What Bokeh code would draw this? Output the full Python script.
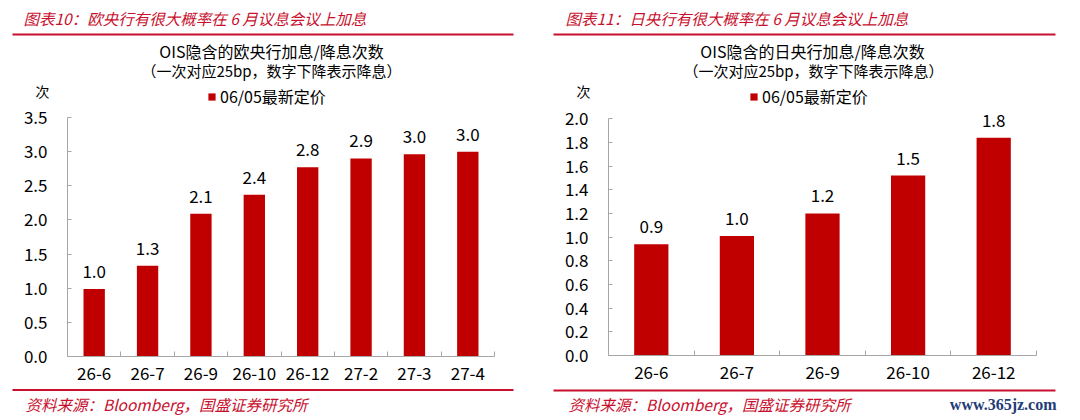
from bokeh.plotting import figure
from bokeh.layouts import row
from bokeh.models import (Range1d, LinearAxis, FixedTicker, NumeralTickFormatter,
                          Legend, LegendItem, ColumnDataSource)
from bokeh.core.properties import value
from bokeh.embed import file_html
from bokeh.resources import INLINE

# ---------------- data ----------------
ecb_months = ["26-6", "26-7", "26-9", "26-10", "26-12", "27-2", "27-3", "27-4"]
ecb_hikes = [0.99, 1.33, 2.09, 2.37, 2.77, 2.90, 2.96, 3.00]
ecb_yticks = [0.0, 0.5, 1.0, 1.5, 2.0, 2.5, 3.0, 3.5]

boj_months = ["26-6", "26-7", "26-9", "26-10", "26-12"]
boj_hikes = [0.94, 1.01, 1.20, 1.52, 1.84]
boj_yticks = [0.0, 0.2, 0.4, 0.6, 0.8, 1.0, 1.2, 1.4, 1.6, 1.8, 2.0]

series_label = "06/05最新定价"
unit_label = "次"
ecb_header = "图表10：欧央行有很大概率在 6 月议息会议上加息"
boj_header = "图表11：日央行有很大概率在 6 月议息会议上加息"
ecb_title = "OIS隐含的欧央行加息/降息次数"
boj_title = "OIS隐含的日央行加息/降息次数"
subtitle = "（一次对应25bp，数字下降表示降息）"
source_text = "资料来源：Bloomberg，国盛证券研究所"
watermark = "www.365jz.com"

# ---------------- style ----------------
FONT = "Noto Sans CJK SC"
BAR = "#C00000"
RED = "#C8102E"
GRAY = "#A6A6A6"
W, H, TOP = 540, 420, 0


def make_panel(px0, header, title, months, vals, yticks, ymax, g, wm=False):
    p = figure(width=W, height=H, output_backend="svg", toolbar_location=None,
               x_axis_type=None, y_axis_type=None,
               x_range=Range1d(px0, px0 + W), y_range=Range1d(TOP + H, TOP))
    p.min_border = 0
    p.min_border_left = p.min_border_right = 0
    p.min_border_top = p.min_border_bottom = 0
    p.outline_line_color = None
    p.background_fill_color = "white"
    p.border_fill_color = "white"

    n = len(months)
    ux = (g["ax_right"] - g["ax_left"]) / n
    uy = (g["ax_zero"] - g["ax_top"]) / ymax
    p.extra_x_ranges = {"bx": Range1d((px0 - g["ax_left"]) / ux,
                                      (px0 + W - g["ax_left"]) / ux)}
    p.extra_y_ranges = {"by": Range1d(-(TOP + H - g["ax_zero"]) / uy,
                                      (g["ax_zero"] - TOP) / uy)}

    xs = [i + 0.5 for i in range(n)]
    src = ColumnDataSource(dict(x=xs, top=vals, lab=[f"{v:.1f}" for v in vals]))
    bars = p.vbar(x="x", top="top", bottom=0, width=0.4, source=src,
                  x_range_name="bx", y_range_name="by",
                  fill_color=BAR, line_color=None)
    p.text(x="x", y="top", text="lab", source=src, x_range_name="bx", y_range_name="by",
           text_align="center", text_baseline="middle", y_offset=-17.5,
           text_font=value(FONT), text_font_size="17px", text_color="#000000")

    yaxis = LinearAxis(x_range_name="bx", y_range_name="by", fixed_location=0,
                       bounds=(0, ymax),
                       ticker=FixedTicker(ticks=yticks, minor_ticks=[]),
                       formatter=NumeralTickFormatter(format="0.0"))
    yaxis.axis_line_color = GRAY
    yaxis.major_tick_line_color = GRAY
    yaxis.major_tick_in = 4
    yaxis.major_tick_out = 0
    yaxis.minor_tick_in = 0
    yaxis.minor_tick_out = 0
    yaxis.major_label_standoff = 20
    yaxis.major_label_text_font = FONT
    yaxis.major_label_text_font_size = "17px"
    yaxis.major_label_text_color = "#000000"
    p.add_layout(yaxis, "left")

    xaxis = LinearAxis(x_range_name="bx", y_range_name="by", fixed_location=0,
                       bounds=(0, n),
                       ticker=FixedTicker(ticks=xs, minor_ticks=list(range(n + 1))),
                       major_label_overrides={x: m for x, m in zip(xs, months)})
    xaxis.axis_line_color = GRAY
    xaxis.major_tick_in = 0
    xaxis.major_tick_out = 0
    xaxis.minor_tick_in = 5
    xaxis.minor_tick_out = 0
    xaxis.minor_tick_line_color = GRAY
    xaxis.major_label_standoff = 10
    xaxis.major_label_text_font = FONT
    xaxis.major_label_text_font_size = "17px"
    xaxis.major_label_text_color = "#000000"
    p.add_layout(xaxis, "below")

    # header, rules, titles
    p.text(x=[g["header"][0]], y=[g["header"][1]], text=[header],
           text_font=value(FONT), text_font_size="15.5px", text_font_style="italic",
           text_color=RED, text_align="left", text_baseline="middle")
    p.segment(x0=[g["rule_x"][0], g["rule_x"][0]], x1=[g["rule_x"][1], g["rule_x"][1]],
              y0=[g["rule_top"], g["rule_bot"]], y1=[g["rule_top"], g["rule_bot"]],
              line_color=RED, line_width=2)
    p.text(x=[g["title"][0]], y=[g["title"][1]], text=[title],
           text_font=value(FONT), text_font_size="16px", text_color="#000000",
           text_align="center", text_baseline="middle")
    p.text(x=[g["sub"][0]], y=[g["sub"][1]], text=[subtitle],
           text_font=value(FONT), text_font_size="15px", text_color="#000000",
           text_align="center", text_baseline="middle")
    p.text(x=[g["unit"][0]], y=[g["unit"][1]], text=[unit_label],
           text_font=value(FONT), text_font_size="14px", text_color="#000000",
           text_align="center", text_baseline="middle")
    p.text(x=[g["source"][0]], y=[g["source"][1]], text=[source_text],
           text_font=value(FONT), text_font_size="15.5px", text_font_style="italic",
           text_color=RED, text_align="left", text_baseline="middle")
    if wm:
        p.text(x=[g["wm"][0]], y=[g["wm"][1]], text=[watermark],
               text_font=value("Liberation Serif"), text_font_size="16px",
               text_font_style="bold", text_color="#1F3C78",
               text_align="right", text_baseline="middle")

    legend = Legend(items=[LegendItem(label=series_label, renderers=[bars])],
                    location=(g["legend"][0] - px0, TOP + H - g["legend"][1]),
                    padding=0, margin=0, spacing=0, label_standoff=4,
                    glyph_width=9, glyph_height=9, label_height=9,
                    background_fill_alpha=0, border_line_color=None,
                    label_text_font=FONT, label_text_font_size="16px",
                    label_text_color="#000000")
    p.add_layout(legend, "center")
    return p


g_left = dict(ax_left=67, ax_right=494, ax_zero=356, ax_top=117,
              header=(23, 17), rule_x=(12, 513), rule_top=34, rule_bot=389.5,
              title=(271, 50), sub=(271, 70), unit=(42, 90),
              legend=(207, 108), source=(25, 403))
g_right = dict(ax_left=608, ax_right=1036, ax_zero=355, ax_top=118.3,
               header=(565, 17), rule_x=(553, 1055), rule_top=34, rule_bot=390,
               title=(812, 50), sub=(813, 70), unit=(583, 90),
               legend=(749, 108), source=(568, 403), wm=(1056, 404))

p1 = make_panel(0, ecb_header, ecb_title, ecb_months, ecb_hikes, ecb_yticks, 3.5, g_left)
p2 = make_panel(540, boj_header, boj_title, boj_months, boj_hikes, boj_yticks, 2.0, g_right, wm=True)

layout = row(p1, p2, spacing=0)
open("out.html", "w").write(file_html(layout, INLINE))
